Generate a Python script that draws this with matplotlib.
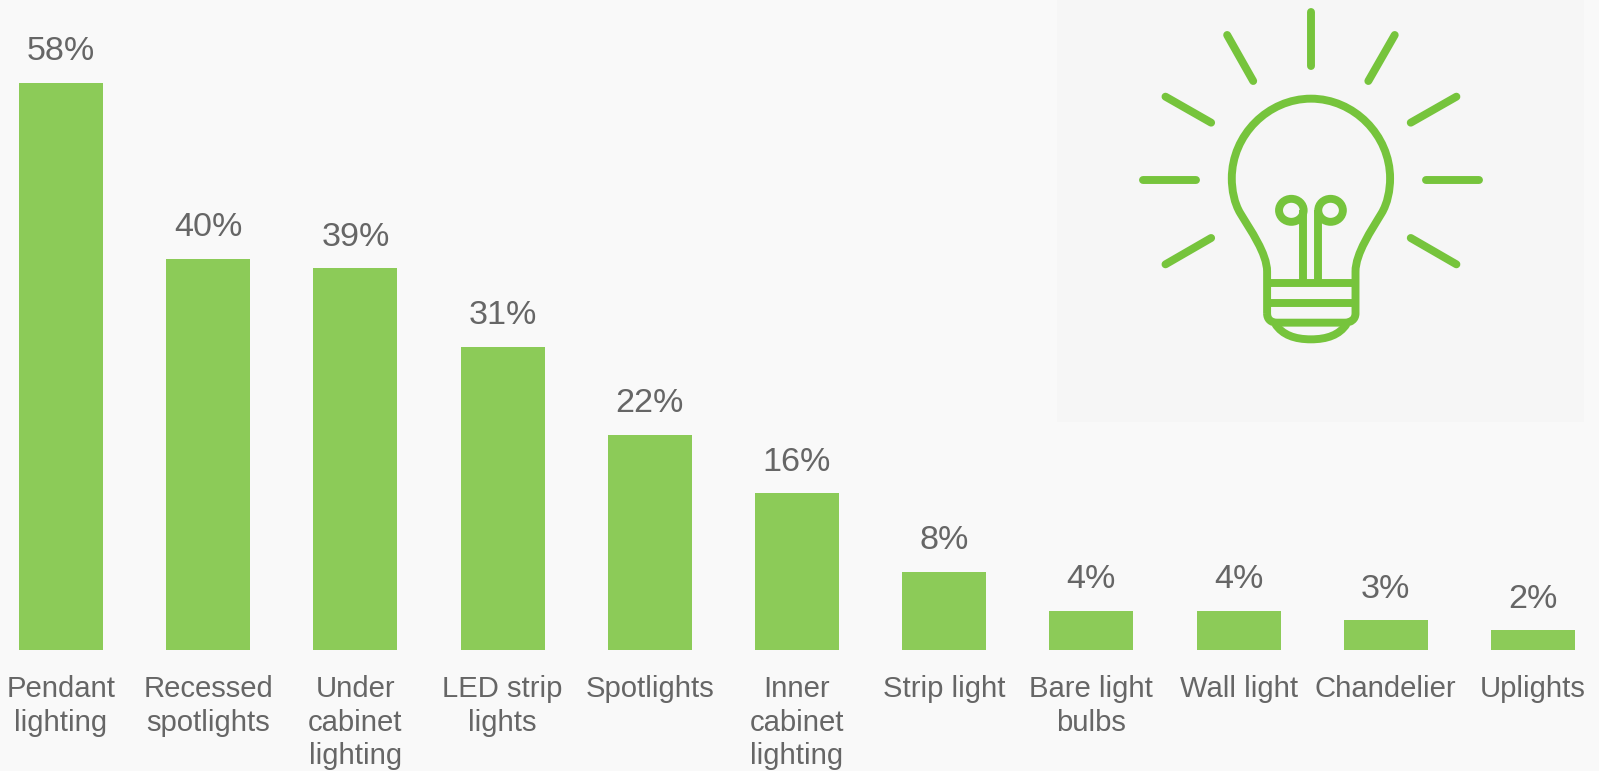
import matplotlib
matplotlib.use("Agg")
import matplotlib.pyplot as plt
from matplotlib.path import Path
from matplotlib.patches import PathPatch, Circle, Rectangle

categories = ["Pendant\nlighting", "Recessed\nspotlights", "Under\ncabinet\nlighting",
              "LED strip\nlights", "Spotlights", "Inner\ncabinet\nlighting", "Strip light",
              "Bare light\nbulbs", "Wall light", "Chandelier", "Uplights"]
values = [58, 40, 39, 31, 22, 16, 8, 4, 4, 3, 2]
value_labels = ["58%", "40%", "39%", "31%", "22%", "16%", "8%", "4%", "4%", "3%", "2%"]

BG = "#f9f9f9"
BAR = "#8ccb58"
ICON = "#76c43c"
TEXT = "#666666"
W, H = 1599, 771
plt.rcParams["font.family"] = ["Liberation Sans", "DejaVu Sans"]

fig = plt.figure(figsize=(W / 100, H / 100), dpi=100, facecolor=BG)

# main chart: axes fill the figure; limits chosen so bars land on the right pixels
ax = fig.add_axes([0, 0, 1, 1], facecolor="none")
pitch, x0, base, unit = 147.2, 61.0, 649.7, 9.775
ax.set_xlim(-x0 / pitch, (W - x0) / pitch)
ax.set_ylim(-(H - base) / unit, base / unit)
pos = list(range(len(categories)))
bars = ax.bar(pos, values, width=0.571, color=BAR, zorder=3)
ax.bar_label(bars, labels=value_labels, padding=11, fontsize=24.6, color=TEXT, zorder=4)
for s in ax.spines.values():
    s.set_visible(False)
ax.set_yticks([])
ax.set_xticks([])
for x, lab in zip(pos, categories):
    ax.annotate(lab, (x, 0), xytext=(0, -18), textcoords="offset points", ha="center", va="top",
                fontsize=21.1, color=TEXT, linespacing=1.265, zorder=4, annotation_clip=False)

# decorative light bulb icon, drawn in pixel space
ic = fig.add_axes([0, 0, 1, 1], facecolor="none", zorder=-1)
ic.set_xlim(0, W)
ic.set_ylim(H, 0)
ic.axis("off")
ic.add_patch(Rectangle((1057, -1), 527, 422.5, fc="#f6f6f6", ec="none"))
ic2 = fig.add_axes([0, 0, 1, 1], facecolor="none", zorder=5)
ic2.set_xlim(-1040 * 2.805, (W - 1040) * 2.805)
ic2.set_ylim(H * 3, 0)
ic2.axis("off")
lw = 5.7
rays = [((760, 35), (760, 197)), ((525, 105), (598, 243)), ((995, 105), (921, 243)),
        ((352, 290), (480, 368)), ((1168, 290), (1040, 368)), ((288, 541), (438, 541)),
        ((1083, 541), (1232, 541)), ((480, 714), (352, 793)), ((1040, 714), (1168, 793))]
for a, b in rays:
    ic2.plot([a[0], b[0]], [a[1], b[1]], color=ICON, lw=lw, solid_capstyle="round")
C, L, M = Path.CURVE4, Path.LINETO, Path.MOVETO
verts = [(637, 940), (637, 815),
         (637, 760), (590, 690), (562, 640),
         (545, 610), (538, 570), (538, 535),
         (538, 405), (640, 296), (760, 296),
         (880, 296), (982, 405), (982, 535),
         (982, 570), (975, 610), (958, 640),
         (930, 690), (885, 760), (885, 815),
         (885, 940),
         (885, 958), (872, 968), (855, 968),
         (665, 968),
         (648, 968), (637, 958), (637, 940)]
codes = [M, L, C, C, C, C, C, C, C, C, C, C, C, C, C, C, C, C, C, C, L, C, C, C, L, C, C, C]
ic2.add_patch(PathPatch(Path(verts, codes), fc="none", ec=ICON, lw=lw, joinstyle="round"))
bowl = [(660, 972), (680, 1005), (715, 1018), (760, 1018), (805, 1018), (840, 1005), (860, 972)]
ic2.add_patch(PathPatch(Path(bowl, [M, C, C, C, C, C, C]), fc="none", ec=ICON, lw=lw))
for y in (850, 910):
    ic2.plot([637, 885], [y, y], color=ICON, lw=lw, solid_capstyle="butt")
for x in (738, 781):
    ic2.plot([x, x], [850, 631], color=ICON, lw=lw, solid_capstyle="butt")
for x in (705, 815):
    ic2.add_patch(Circle((x, 631), 34.5, fc="none", ec=ICON, lw=lw))

fig.savefig("out.png", dpi=100, facecolor=BG)
